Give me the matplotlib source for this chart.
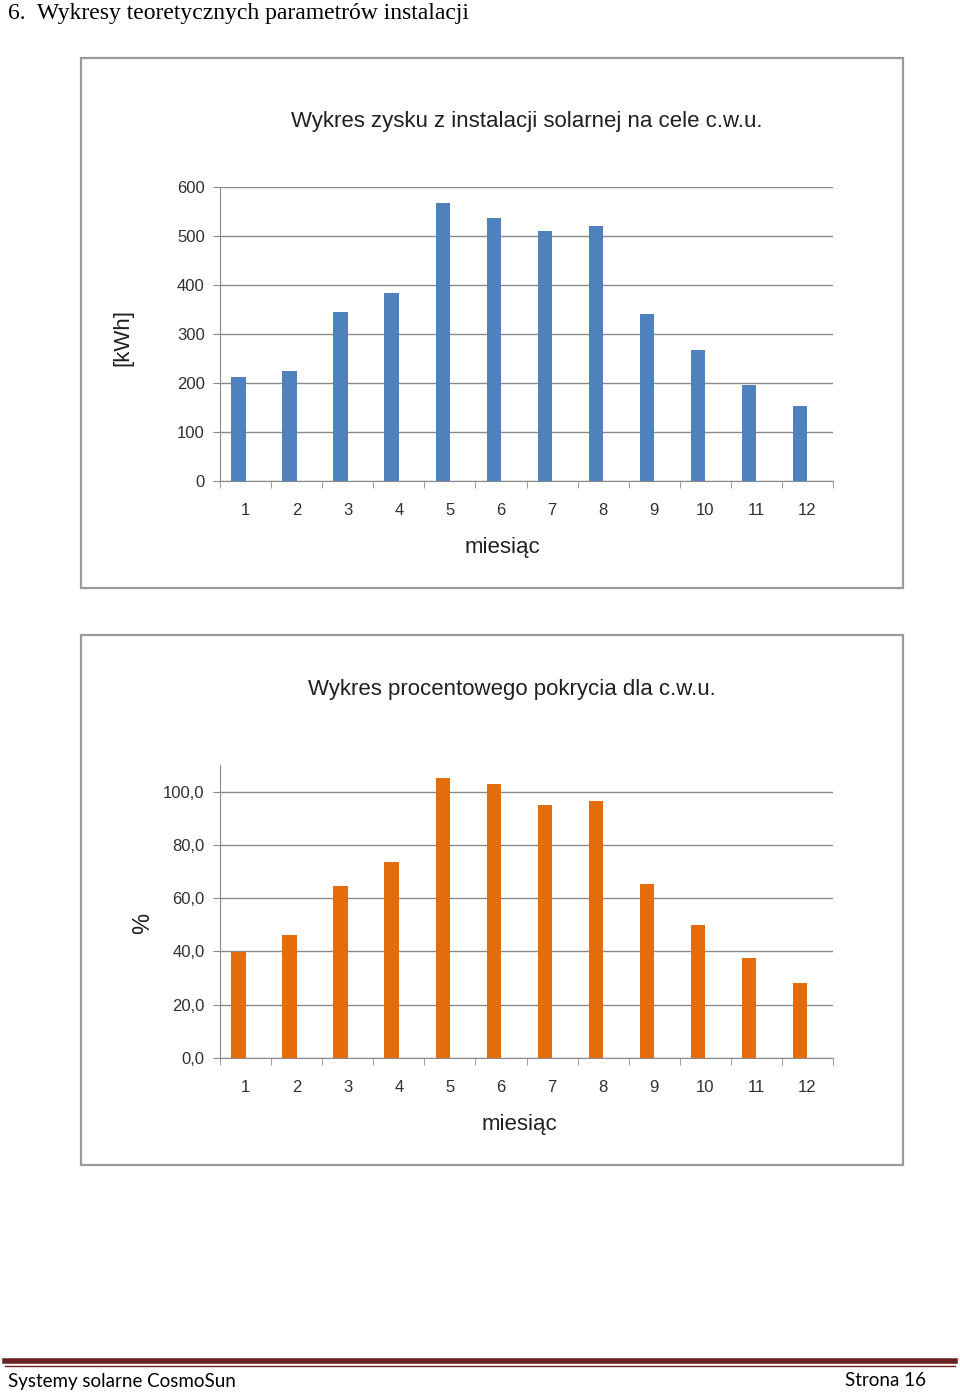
import matplotlib.pyplot as plt
import numpy as np
from matplotlib.patches import Rectangle
from matplotlib.lines import Line2D
from matplotlib.ticker import FuncFormatter

miesiace = np.arange(1, 13)
zysk_kwh = [212, 224, 345, 384, 567, 537, 510, 520, 341, 267, 196, 153]
pokrycie = [39.7, 46.1, 64.4, 73.4, 105.2, 103.0, 95.1, 96.6, 65.5, 49.8, 37.5, 28.1]
tytul_1 = 'Wykres zysku z instalacji solarnej na cele c.w.u.'
tytul_2 = 'Wykres procentowego pokrycia dla c.w.u.'

W, H = 960, 1392
fig = plt.figure(figsize=(9.6, 13.92), dpi=100)
fig.patch.set_facecolor('white')

def fx(px):
    return px / W

def fy(py):
    return 1 - py / H

# ramki wykresów
for top, bot in [(58, 588), (635, 1165)]:
    fig.patches.append(Rectangle((fx(81), fy(bot)), fx(903) - fx(81), fy(top) - fy(bot),
                                 transform=fig.transFigure, fill=False,
                                 edgecolor='#9a9a9a', lw=1.6))

def rysuj(ax, dane, kolor, ymax, kroki, fmt):
    # słupek kończy się na środku kategorii (jak w Excelu z pustą drugą serią)
    ax.bar(miesiace, dane, -0.28, align='edge', color=kolor, zorder=3)
    ax.set_xlim(0.5, 12.5)
    ax.set_ylim(0, ymax)
    ax.set_yticks(kroki)
    ax.yaxis.set_major_formatter(FuncFormatter(fmt))
    ax.grid(axis='y', color='#8a8a8a', lw=1.0, zorder=0)
    ax.set_xticks(miesiace)
    ax.set_xticks(np.arange(0.5, 13, 1), minor=True)
    ax.tick_params(axis='x', which='major', length=0, pad=16, labelsize=12, labelcolor='#303030')
    ax.tick_params(axis='x', which='minor', length=5, color='#8a8a8a', direction='out')
    ax.tick_params(axis='y', length=5, color='#8a8a8a', labelsize=12, labelcolor='#303030', pad=6)
    for s in ['top', 'right']:
        ax.spines[s].set_visible(False)
    for s in ['left', 'bottom']:
        ax.spines[s].set_color('#8a8a8a')
    ax.set_xlabel('miesiąc', fontsize=16, color='#202020')

plt.rcParams['font.family'] = ['Liberation Sans', 'DejaVu Sans']

ax1 = fig.add_axes([fx(220), fy(481), fx(833) - fx(220), fy(187) - fy(481)])
rysuj(ax1, zysk_kwh, '#4F81BD', 600, np.arange(0, 601, 100), lambda v, p: f'{v:.0f}')
ax1.xaxis.set_label_coords((fx(502) - fx(220)) / (fx(833) - fx(220)), -0.19)
fig.text(fx(123), fy(337), '[kWh]', rotation=90, ha='center', va='center', fontsize=16, color='#202020')
fig.text(fx(527), fy(121), tytul_1, ha='center', va='center', fontsize=16, color='#202020')

ax2 = fig.add_axes([fx(220), fy(1058), fx(833) - fx(220), fy(765) - fy(1058)])
rysuj(ax2, pokrycie, '#E46C0A', 110, np.arange(0, 101, 20),
      lambda v, p: f'{v:.1f}'.replace('.', ','))
ax2.xaxis.set_label_coords((fx(519) - fx(220)) / (fx(833) - fx(220)), -0.19)
fig.text(fx(143), fy(923), '%', rotation=90, ha='center', va='center', fontsize=17, color='#202020')
fig.text(fx(512), fy(690), tytul_2, ha='center', va='center', fontsize=16, color='#202020')

# nagłówek strony
fig.text(fx(8), fy(13), '6.  Wykresy teoretycznych parametrów instalacji', ha='left', va='center',
         fontsize=17, family=['Liberation Serif', 'DejaVu Serif'], color='black')

# stopka
fig.add_artist(Line2D([fx(5), fx(955)], [fy(1361), fy(1361)], color='#6b1f1f', lw=4,
                      transform=fig.transFigure))
fig.add_artist(Line2D([fx(5), fx(955)], [fy(1366), fy(1366)], color='#6b1f1f', lw=1,
                      transform=fig.transFigure))
fig.text(fx(8), fy(1381), 'Systemy solarne CosmoSun', ha='left', va='center', fontsize=13.5,
         family=['Lato', 'DejaVu Sans'], color='black')
fig.text(fx(926), fy(1381), 'Strona 16', ha='right', va='center', fontsize=13.5,
         family=['Lato', 'DejaVu Sans'], color='black')

fig.savefig('out.png', dpi=100)
